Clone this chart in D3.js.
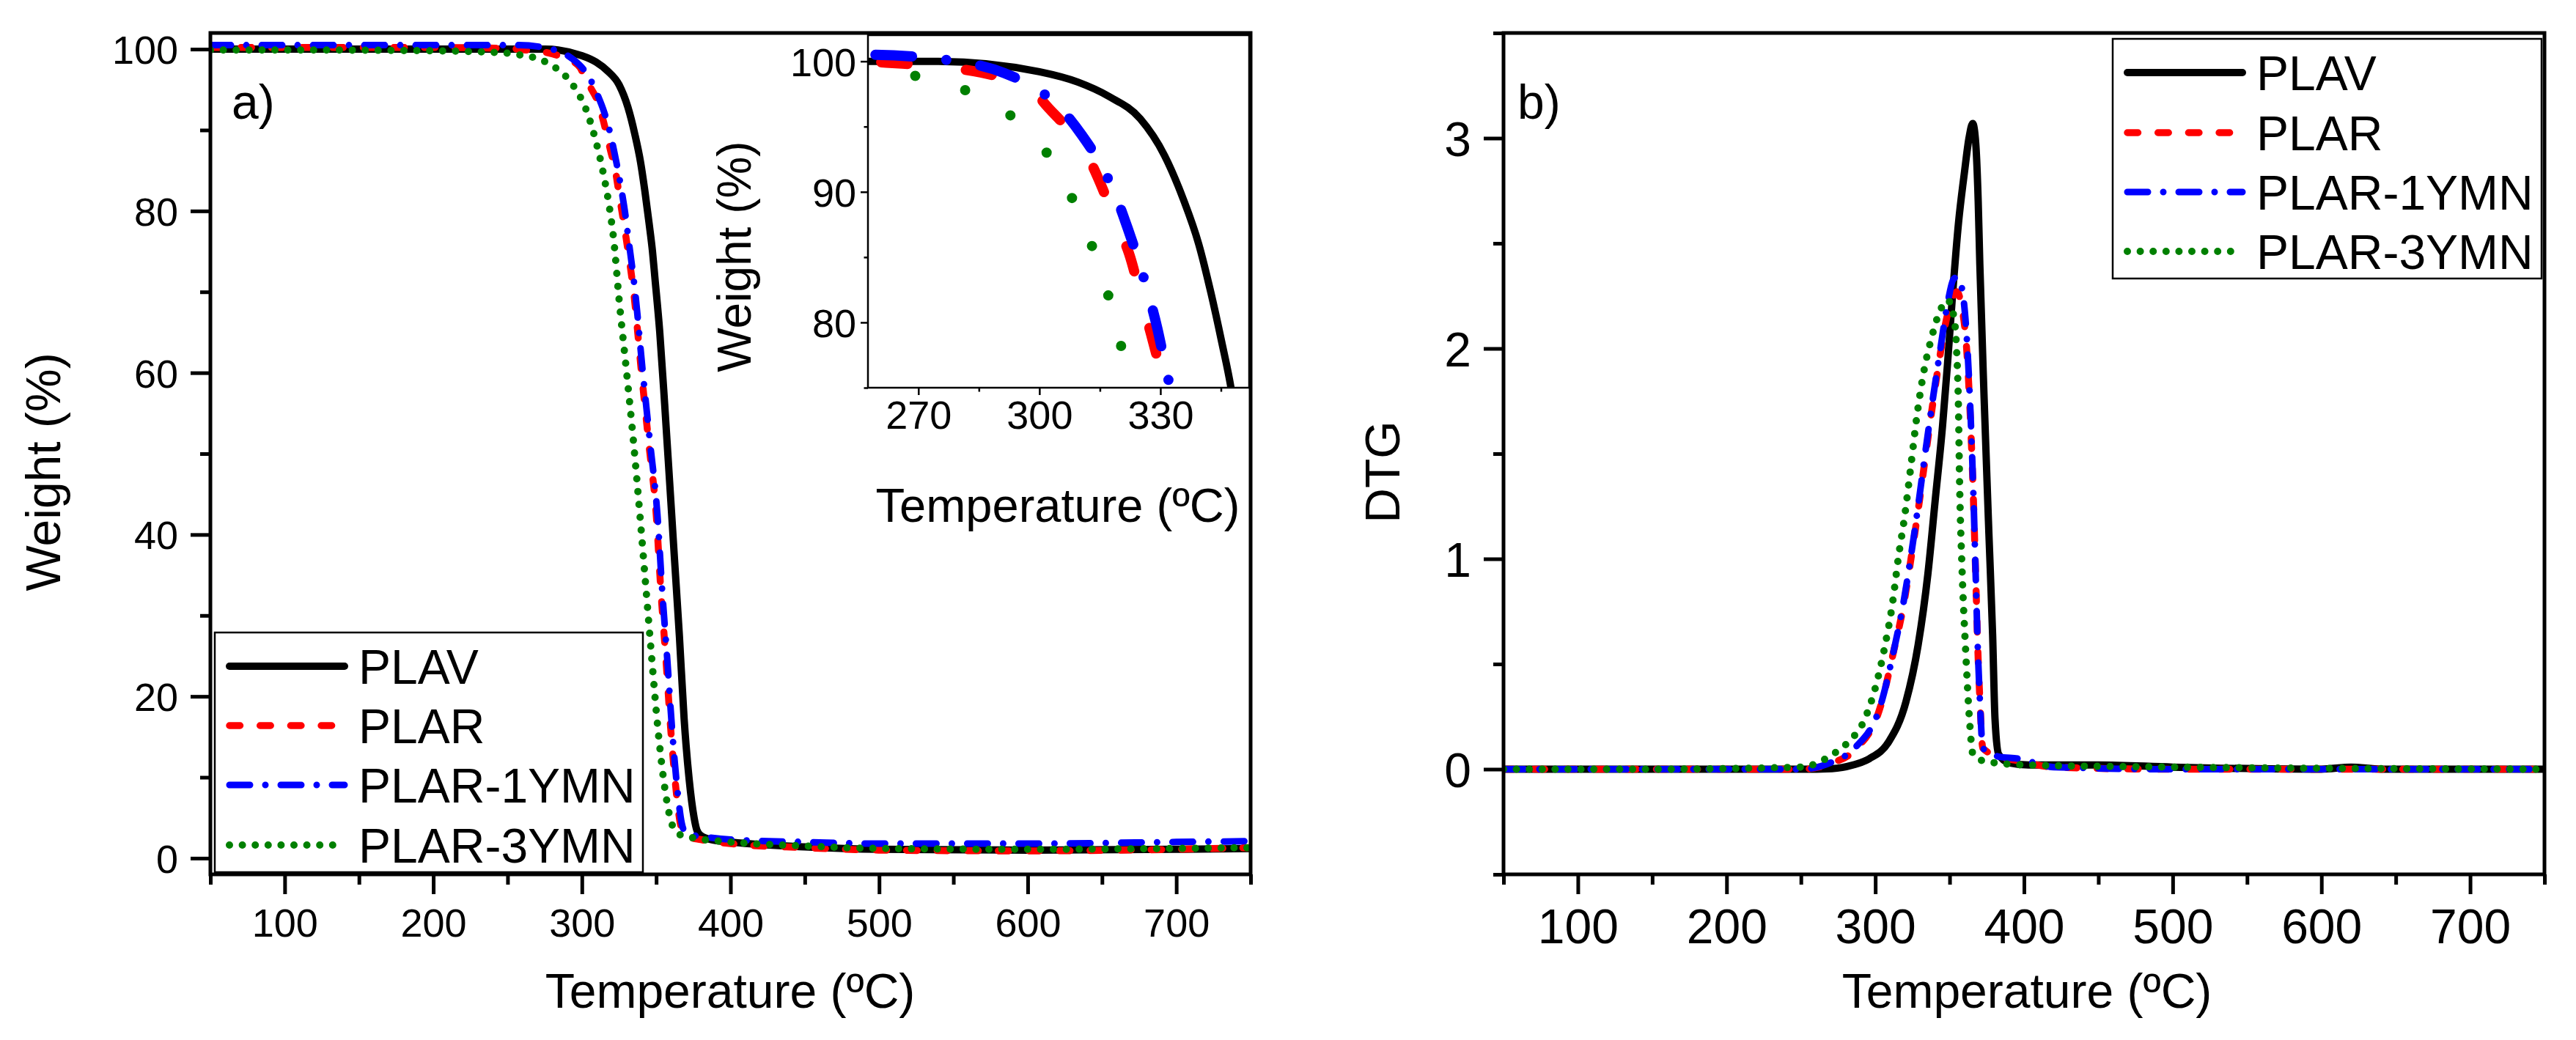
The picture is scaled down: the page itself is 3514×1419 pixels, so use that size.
<!DOCTYPE html>
<html>
<head>
<meta charset="utf-8">
<script src="https://cdn.jsdelivr.net/npm/d3@7"></script>
<style>
  body { margin: 0; background: #fff; }
  text { font-family: "Liberation Sans", Arial, sans-serif; fill: #000; }
</style>
</head>
<body>
<div id="chart"></div>
<script>
// ---- data ----
const seriesNames = ["PLAV", "PLAR", "PLAR-1YMN", "PLAR-3YMN"];

// TGA, weight (%) vs temperature (ºC)
const tgaT_PLAV = [50, 100, 200, 250, 275, 300, 309.6, 317.3, 325, 331, 335.6, 339.5, 342.5, 345.2, 347.5, 349.1, 352.4, 355.7, 359, 362.3, 365.6, 368.8, 372.2, 375.5, 377.3, 380, 387, 400, 450, 500, 600, 700, 750];
const tgaW_PLAV = [100.0, 100.0, 100.0, 100.0, 100.0, 99.2, 98.4, 97.3, 95.6, 92.8, 89.5, 86.0, 82.3, 78.5, 75.0, 71.8, 65.0, 56.1, 46.6, 37.0, 27.5, 17.2, 9.7, 5.0, 3.5, 2.8, 2.3, 2.0, 1.4, 1.1, 1.0, 1.1, 1.2];

const tgaT_PLAR = [50, 100, 200, 250, 262, 280.5, 290, 298.9, 301.2, 306, 311.1, 314.2, 319.5, 322.2, 325.7, 327.6, 331, 335, 340, 345, 350, 353.2, 356.5, 359.8, 363, 366.2, 368.5, 372, 380, 400, 450, 500, 600, 700, 750];
const tgaW_PLAR = [100.2, 100.2, 100.2, 100.1, 99.9, 99.4, 98.8, 97.7, 96.8, 95.2, 93.3, 91.3, 87.3, 85.3, 81.3, 79.2, 75.1, 69.7, 60.2, 51.3, 42.5, 32.9, 24.7, 15.9, 9.1, 4.3, 3.0, 2.6, 2.3, 1.8, 1.3, 1.0, 0.9, 1.1, 1.3];

const tgaT_1YMN = [50, 100, 200, 257.6, 274.4, 291.3, 298.1, 304.3, 310.4, 315, 318.8, 321.9, 324.6, 326.9, 329.2, 331, 336, 340.9, 345.9, 350.8, 354.1, 357.4, 360.7, 363.9, 367.2, 369.5, 373, 380, 400, 450, 500, 600, 700, 750];
const tgaW_1YMN = [100.5, 100.5, 100.5, 100.5, 100.2, 99.1, 98.1, 96.7, 94.4, 92.2, 89.8, 87.2, 84.7, 82.3, 79.6, 77.0, 69.7, 60.2, 51.3, 42.5, 32.9, 24.7, 15.9, 9.1, 4.3, 3.2, 2.9, 2.7, 2.3, 2.0, 1.8, 1.8, 2.0, 2.1];

const tgaT_3YMN = [50, 100, 200, 250, 257.4, 270.6, 283, 293.8, 303.7, 310, 314.9, 318.8, 321.5, 325, 330, 334.8, 339, 343, 347, 351.2, 356, 361, 366, 375, 400, 450, 500, 600, 700, 750];
const tgaW_3YMN = [99.9, 99.9, 99.8, 99.5, 99.3, 98.8, 97.6, 95.6, 92.1, 88.2, 84.2, 80.1, 76.3, 69.1, 60.2, 51.3, 42.5, 33.6, 24.7, 15.9, 8.4, 4.0, 2.9, 2.5, 2.0, 1.5, 1.2, 1.1, 1.2, 1.3];

// DTG vs temperature (ºC)
const dtgT_PLAV = [50, 150, 250, 271, 285, 296, 309, 320.6, 328.8, 335.4, 340.3, 345.2, 348.5, 351.8, 356, 360, 363, 365.5, 367.5, 369.2, 370.3, 373.2, 376.4, 378.9, 380.5, 383, 390, 403, 450, 500, 600, 620, 640, 750];
const dtgD_PLAV = [0, 0, 0, 0.003, 0.02, 0.05, 0.13, 0.32, 0.59, 0.93, 1.28, 1.63, 1.92, 2.24, 2.6, 2.84, 3.0, 3.07, 2.98, 2.7, 2.4, 1.76, 1.12, 0.64, 0.24, 0.07, 0.03, 0.02, 0.02, 0.01, 0, 0.01, 0, 0];

const dtgT_PLAR = [50, 150, 250, 271, 286, 304, 312, 319, 324, 329, 334, 338.7, 343.6, 348.5, 352.5, 355, 357.5, 361.7, 364.1, 366, 367.6, 369, 370.4, 372.3, 383, 396, 420, 500, 600, 750];
const dtgD_PLAR = [0, 0, 0, 0.03, 0.09, 0.31, 0.55, 0.78, 1.0, 1.24, 1.5, 1.74, 1.97, 2.16, 2.25, 2.27, 2.22, 1.97, 1.64, 1.28, 0.9, 0.56, 0.32, 0.1, 0.06, 0.04, 0.01, 0, 0, 0];

const dtgT_1YMN = [50, 150, 250, 271.3, 286.1, 304.2, 312.3, 318.9, 323.9, 328.8, 333.7, 338.7, 343.6, 348.5, 352.6, 355, 357.5, 361.7, 364.1, 366, 367.6, 369, 370.4, 372.3, 383, 396, 420, 500, 600, 750];
const dtgD_1YMN = [0, 0, 0, 0.035, 0.1, 0.32, 0.56, 0.79, 1.01, 1.25, 1.51, 1.76, 1.99, 2.21, 2.33, 2.34, 2.31, 2.03, 1.68, 1.3, 0.9, 0.56, 0.32, 0.1, 0.06, 0.05, 0.01, 0, 0, 0];

const dtgT_3YMN = [50, 150, 250, 271.3, 282, 292.7, 300.9, 306.6, 311.6, 315.6, 319.7, 323.9, 328, 332.1, 337.8, 343.6, 348.5, 352.6, 354.7, 355.9, 356.7, 358.3, 360.8, 363.3, 365.7, 372.3, 400, 500, 750];
const dtgD_3YMN = [0, 0, 0.01, 0.07, 0.13, 0.235, 0.41, 0.59, 0.79, 1.01, 1.2, 1.44, 1.68, 1.87, 2.05, 2.18, 2.23, 2.16, 1.99, 1.73, 1.36, 0.96, 0.56, 0.24, 0.07, 0.04, 0.02, 0.01, 0];

// tick values
const tempMajor = [100, 200, 300, 400, 500, 600, 700];
const tempMinor = [50, 150, 250, 350, 450, 550, 650, 750];
const weightMajor = [0, 20, 40, 60, 80, 100];
const weightMinor = [10, 30, 50, 70, 90];
const dtgMajor = [0, 1, 2, 3];
const dtgMinor = [-0.5, 0.5, 1.5, 2.5, 3.5];
const insetTMajor = [270, 300, 330];
const insetTMinor = [285, 315, 345];
const insetWMajor = [80, 90, 100];
const insetWMinor = [75, 85, 95];

// ---- styles ----
const colors = ["#000000", "#ff0000", "#0000ff", "#008000"];
const widths = [10, 9.5, 9, 10];
const dashes = [null, "14.5,27.2", "28,21,0,21", "0,17.6"];
const insetWidths = [10, 14, 14, 14];
const insetDashes = [null, "36,80", "50,47,0,47", "0,71"];
const FONT = '"Liberation Sans", Arial, sans-serif';

const tga = [
  d3.zip(tgaT_PLAV, tgaW_PLAV),
  d3.zip(tgaT_PLAR, tgaW_PLAR),
  d3.zip(tgaT_1YMN, tgaW_1YMN),
  d3.zip(tgaT_3YMN, tgaW_3YMN),
];
const dtg = [
  d3.zip(dtgT_PLAV, dtgD_PLAV),
  d3.zip(dtgT_PLAR, dtgD_PLAR),
  d3.zip(dtgT_1YMN, dtgD_1YMN),
  d3.zip(dtgT_3YMN, dtgD_3YMN),
];

const svg = d3.select("#chart").append("svg")
  .attr("width", 3514).attr("height", 1419)
  .style("background", "#fff");

const defs = svg.append("defs");
function clip(id, x0, y0, x1, y1) {
  defs.append("clipPath").attr("id", id).append("rect")
    .attr("x", x0).attr("y", y0).attr("width", x1 - x0).attr("height", y1 - y0);
  return `url(#${id})`;
}

// scales
const xA = d3.scaleLinear().domain([50, 750]).range([287, 1706]);
const yA = d3.scaleLinear().domain([-2, 102]).range([1193, 45]);
const xB = d3.scaleLinear().domain([50, 750]).range([2051, 3471]);
const yB = d3.scaleLinear().domain([-0.5, 3.5]).range([1193, 45]);
const xI = d3.scaleLinear().domain([257.5, 352]).range([1184, 1704]);
const yI = d3.scaleLinear().domain([75, 102]).range([529, 48]);

function drawLines(g, data, x, y, clipUrl, w, da) {
  const line = d3.line().x(d => x(d[0])).y(d => y(d[1])).curve(d3.curveMonotoneX);
  g.append("g").attr("clip-path", clipUrl)
    .selectAll("path")
    .data(data)
    .join("path")
    .attr("d", d => line(d))
    .attr("fill", "none")
    .attr("stroke", (d, i) => colors[i])
    .attr("stroke-width", (d, i) => w[i])
    .attr("stroke-dasharray", (d, i) => da[i])
    .attr("stroke-linecap", (d, i) => i === 0 ? "butt" : "round")
    .attr("stroke-linejoin", "round");
}

function styleAxis(g, fs, lw) {
  g.select(".domain").remove();
  g.attr("font-family", null).attr("font-size", null);
  g.selectAll("line").attr("stroke", "#000").attr("stroke-width", lw);
  g.selectAll("text").attr("fill", "#000").style("font-size", fs + "px").style("font-family", FONT);
}

function bottomAxis(g, x, y0, major, minor, len, mlen, lw, fs, ly) {
  const a = g.append("g").attr("transform", `translate(0,${y0})`)
    .call(d3.axisBottom(x).tickValues(major).tickSize(len).tickFormat(d3.format("d")));
  styleAxis(a, fs, lw);
  a.selectAll("text").attr("y", ly).attr("dy", 0);
  const m = g.append("g").attr("transform", `translate(0,${y0})`)
    .call(d3.axisBottom(x).tickValues(minor).tickSize(mlen).tickFormat(""));
  styleAxis(m, fs, lw);
}

function leftAxis(g, y, x0, major, minor, len, mlen, lw, fs, lx, fmt) {
  const a = g.append("g").attr("transform", `translate(${x0},0)`)
    .call(d3.axisLeft(y).tickValues(major).tickSize(len).tickFormat(fmt));
  styleAxis(a, fs, lw);
  a.selectAll("text").attr("x", lx).attr("dy", "0.36em");
  const m = g.append("g").attr("transform", `translate(${x0},0)`)
    .call(d3.axisLeft(y).tickValues(minor).tickSize(mlen).tickFormat(""));
  styleAxis(m, fs, lw);
}

function legend(g, x0, y0, w, h, rows) {
  const lg = g.append("g");
  lg.append("rect").attr("x", x0).attr("y", y0).attr("width", w).attr("height", h)
    .attr("fill", "#fff").attr("stroke", "#000").attr("stroke-width", 2.5);
  seriesNames.forEach((name, i) => {
    lg.append("line")
      .attr("x1", x0 + 20).attr("x2", x0 + 177)
      .attr("y1", rows[i]).attr("y2", rows[i])
      .attr("stroke", colors[i]).attr("stroke-width", widths[i])
      .attr("stroke-dasharray", dashes[i])
      .attr("stroke-linecap", "round");
    lg.append("text").attr("x", x0 + 196).attr("y", rows[i] + 23.5)
      .style("font-size", "66px").text(name);
  });
}

// ================= panel a) TGA =================
const gA = svg.append("g");
drawLines(gA, tga, xA, yA, clip("clipA", 287, 45, 1706, 1193), widths, dashes);
gA.append("rect").attr("x", 287).attr("y", 45).attr("width", 1706 - 287).attr("height", 1193 - 45)
  .attr("fill", "none").attr("stroke", "#000").attr("stroke-width", 5);
bottomAxis(gA, xA, 1193, tempMajor, tempMinor, 27, 14, 5, 54, 85);
leftAxis(gA, yA, 287, weightMajor, weightMinor, 27, 14, 5, 54, -44, d3.format("d"));

legend(gA, 293, 863, 584, 327, [909, 990, 1071, 1153]);

gA.append("text").attr("x", 316).attr("y", 162).style("font-size", "66px").text("a)");
gA.append("text").attr("x", 996).attr("y", 1375).attr("text-anchor", "middle")
  .style("font-size", "66px").text("Temperature (ºC)");
gA.append("text").attr("transform", "translate(82,644) rotate(-90)").attr("text-anchor", "middle")
  .style("font-size", "66px").text("Weight (%)");

// inset
const gI = svg.append("g");
gI.append("rect").attr("x", 1184).attr("y", 48).attr("width", 1704 - 1184).attr("height", 529 - 48)
  .attr("fill", "#fff");
drawLines(gI, tga, xI, yI, clip("clipI", 1184, 48, 1704, 529), insetWidths, insetDashes);
gI.append("rect").attr("x", 1184).attr("y", 48).attr("width", 1704 - 1184).attr("height", 529 - 48)
  .attr("fill", "none").attr("stroke", "#000").attr("stroke-width", 2.5);
bottomAxis(gI, xI, 529, insetTMajor, insetTMinor, 10, 5.5, 2.5, 54, 56);
leftAxis(gI, yI, 1184, insetWMajor, insetWMinor, 10, 5.5, 2.5, 54, -16, d3.format("d"));
gI.append("text").attr("x", 1443).attr("y", 712).attr("text-anchor", "middle")
  .style("font-size", "65px").text("Temperature (ºC)");
gI.append("text").attr("transform", "translate(1024,350) rotate(-90)").attr("text-anchor", "middle")
  .style("font-size", "64px").text("Weight (%)");

// ================= panel b) DTG =================
const gB = svg.append("g");
drawLines(gB, dtg, xB, yB, clip("clipB", 2051, 45, 3471, 1193), widths, dashes);
gB.append("rect").attr("x", 2051).attr("y", 45).attr("width", 3471 - 2051).attr("height", 1193 - 45)
  .attr("fill", "none").attr("stroke", "#000").attr("stroke-width", 5);
bottomAxis(gB, xB, 1193, tempMajor, tempMinor, 27, 14, 5, 66, 94);
leftAxis(gB, yB, 2051, dtgMajor, dtgMinor, 27, 14, 5, 66, -44, d3.format("d"));

legend(gB, 2882, 53, 585, 327, [99, 181, 262, 343]);

gB.append("text").attr("x", 2070).attr("y", 162).style("font-size", "66px").text("b)");
gB.append("text").attr("x", 2765).attr("y", 1375).attr("text-anchor", "middle")
  .style("font-size", "66px").text("Temperature (ºC)");
gB.append("text").attr("transform", "translate(1909,644) rotate(-90)").attr("text-anchor", "middle")
  .style("font-size", "66px").text("DTG");
</script>
</body>
</html>
